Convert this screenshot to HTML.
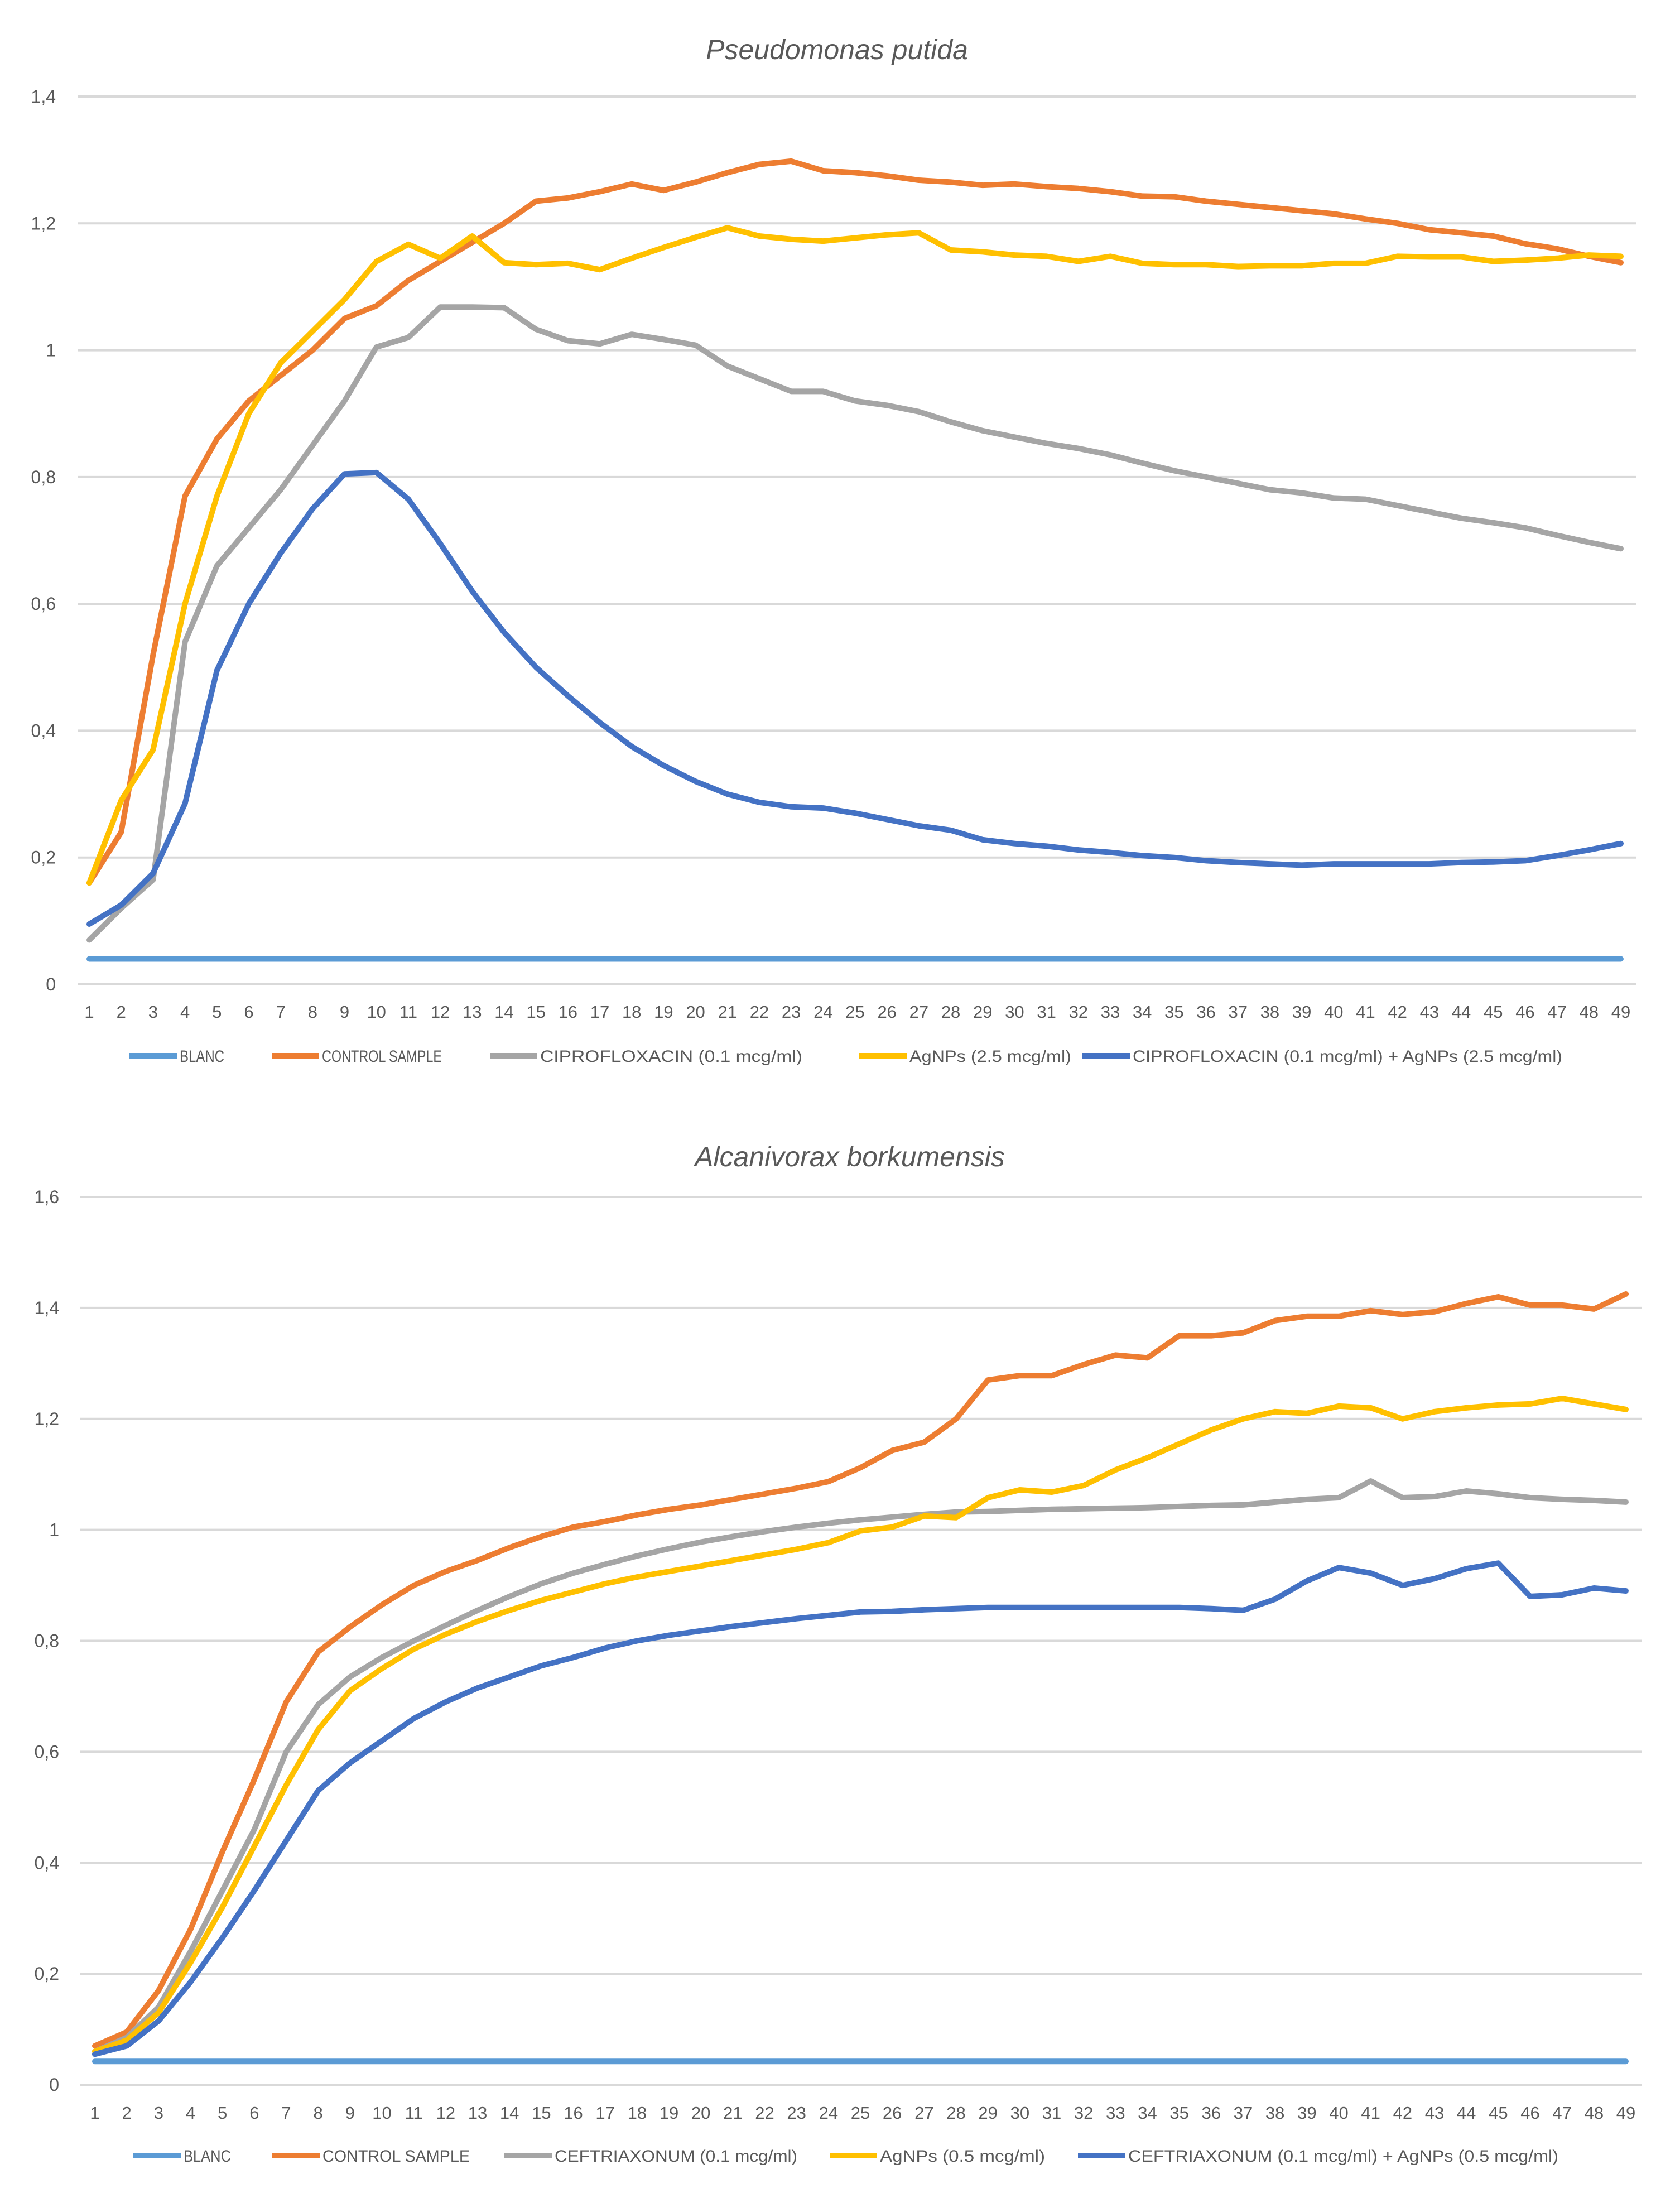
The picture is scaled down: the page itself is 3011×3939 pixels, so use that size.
<!DOCTYPE html>
<html><head><meta charset="utf-8"><style>
html,body{margin:0;padding:0;background:#fff}
svg{display:block}
text{font-family:"Liberation Sans",sans-serif;fill:#595959}
</style></head><body>
<svg id="svg" width="3011" height="3939" viewBox="0 0 3011 3939" xmlns="http://www.w3.org/2000/svg">
<rect width="3011" height="3939" fill="#fff"/>
<text x="1500" y="106" font-size="50" font-style="italic" text-anchor="middle">Pseudomonas putida</text>
<text x="1523" y="2090" font-size="50" font-style="italic" text-anchor="middle">Alcanivorax borkumensis</text>
</svg>
<script>
const categories = Array.from({length:49},(_,i)=>String(i+1));
const topTicks = ["0","0,2","0,4","0,6","0,8","1","1,2","1,4"];
const topTickValues = [0,0.2,0.4,0.6,0.8,1,1.2,1.4];
const botTicks = ["0","0,2","0,4","0,6","0,8","1","1,2","1,4","1,6"];
const botTickValues = [0,0.2,0.4,0.6,0.8,1,1.2,1.4,1.6];

const topBlanc = Array(49).fill(0.04);
const topControl = [0.16,0.24,0.52,0.77,0.86,0.92,0.96,1.0,1.05,1.07,1.11,1.14,1.17,1.2,1.235,1.24,1.25,1.262,1.252,1.265,1.28,1.293,1.298,1.283,1.28,1.275,1.268,1.265,1.26,1.262,1.258,1.255,1.25,1.243,1.242,1.235,1.23,1.225,1.22,1.215,1.207,1.2,1.19,1.185,1.18,1.168,1.16,1.148,1.138];
const topCipro = [0.07,0.12,0.165,0.54,0.66,0.72,0.78,0.85,0.92,1.005,1.02,1.068,1.068,1.067,1.033,1.015,1.01,1.025,1.017,1.008,0.975,0.955,0.935,0.935,0.92,0.913,0.903,0.887,0.873,0.863,0.853,0.845,0.835,0.822,0.81,0.8,0.79,0.78,0.775,0.767,0.765,0.755,0.745,0.735,0.728,0.72,0.708,0.697,0.687];
const topAgNPs = [0.16,0.29,0.37,0.6,0.77,0.9,0.98,1.03,1.08,1.14,1.167,1.145,1.18,1.138,1.135,1.137,1.127,1.145,1.162,1.178,1.193,1.18,1.175,1.172,1.177,1.182,1.185,1.158,1.155,1.15,1.148,1.14,1.148,1.137,1.135,1.135,1.132,1.133,1.133,1.137,1.137,1.148,1.147,1.147,1.14,1.142,1.145,1.15,1.148];
const topCombo = [0.095,0.125,0.175,0.285,0.495,0.6,0.68,0.75,0.805,0.807,0.765,0.695,0.62,0.555,0.5,0.455,0.413,0.375,0.345,0.32,0.3,0.287,0.28,0.278,0.27,0.26,0.25,0.243,0.228,0.222,0.218,0.212,0.208,0.203,0.2,0.195,0.192,0.19,0.188,0.19,0.19,0.19,0.19,0.192,0.193,0.195,0.203,0.212,0.222];

const botBlanc = Array(49).fill(0.042);
const botControl = [0.07,0.095,0.17,0.28,0.42,0.55,0.69,0.78,0.825,0.865,0.9,0.925,0.945,0.968,0.988,1.005,1.015,1.027,1.037,1.045,1.055,1.065,1.075,1.087,1.112,1.143,1.158,1.2,1.27,1.278,1.278,1.298,1.315,1.31,1.35,1.35,1.355,1.377,1.385,1.385,1.395,1.388,1.393,1.408,1.42,1.405,1.405,1.398,1.425];
const botCeftr = [0.06,0.085,0.14,0.24,0.35,0.46,0.6,0.685,0.735,0.77,0.8,0.828,0.855,0.88,0.903,0.922,0.938,0.953,0.966,0.978,0.988,0.997,1.005,1.012,1.018,1.023,1.028,1.032,1.033,1.035,1.037,1.038,1.039,1.04,1.042,1.044,1.045,1.05,1.055,1.058,1.088,1.058,1.06,1.07,1.065,1.058,1.055,1.053,1.05];
const botAgNPs = [0.06,0.08,0.13,0.22,0.32,0.43,0.54,0.64,0.71,0.75,0.785,0.812,0.835,0.855,0.873,0.888,0.903,0.915,0.925,0.935,0.945,0.955,0.965,0.977,0.998,1.005,1.025,1.022,1.058,1.072,1.068,1.08,1.108,1.13,1.155,1.18,1.2,1.213,1.21,1.223,1.22,1.2,1.213,1.22,1.225,1.227,1.237,1.227,1.217];
const botCombo = [0.055,0.07,0.115,0.185,0.265,0.35,0.44,0.53,0.58,0.62,0.66,0.69,0.715,0.735,0.755,0.77,0.787,0.8,0.81,0.818,0.826,0.833,0.84,0.846,0.852,0.853,0.856,0.858,0.86,0.86,0.86,0.86,0.86,0.86,0.86,0.858,0.855,0.875,0.908,0.932,0.922,0.9,0.912,0.93,0.94,0.88,0.883,0.895,0.89];

const topNames = ["BLANC","CONTROL SAMPLE","CIPROFLOXACIN (0.1 mcg/ml)","AgNPs (2.5 mcg/ml)","CIPROFLOXACIN (0.1 mcg/ml) + AgNPs (2.5 mcg/ml)"];
const botNames = ["BLANC","CONTROL SAMPLE","CEFTRIAXONUM (0.1 mcg/ml)","AgNPs  (0.5 mcg/ml)","CEFTRIAXONUM (0.1 mcg/ml) + AgNPs  (0.5 mcg/ml)"];
const colors = ["#5B9BD5","#ED7D31","#A5A5A5","#FFC000","#4472C4"];
const NS="http://www.w3.org/2000/svg";
const svg=document.getElementById('svg');
function mk(tag,attrs){const e=document.createElementNS(NS,tag);for(const k in attrs)e.setAttribute(k,attrs[k]);svg.appendChild(e);return e;}

function chart(cfg){
  const xs=i=>cfg.x1+(cfg.x49-cfg.x1)*i/48;
  const ys=v=>cfg.y0-(cfg.y0-cfg.yTop)*v/cfg.vMax;
  cfg.tickValues.forEach((v,i)=>{
    const g=mk('line',{x1:cfg.gl,x2:cfg.gr,y1:ys(v),y2:ys(v),stroke:'#d9d9d9','stroke-width':4});
    
    
    const t=mk('text',{x:cfg.ylx,y:ys(v)+11,'font-size':32,'text-anchor':'end'});
    t.textContent=cfg.ticks[i];
    
    
  });
  categories.forEach((c,i)=>{
    const t=mk('text',{x:xs(i),y:cfg.xly,'font-size':31,'text-anchor':'middle'});
    t.textContent=c;
    
    
  });
  cfg.series.forEach((s,k)=>{
    const d=s.map((v,i)=>(i?'L':'M')+xs(i).toFixed(1)+' '+ys(v).toFixed(1)).join(' ');
    const p=mk('path',{d:d,fill:'none',stroke:colors[k],'stroke-width':10,'stroke-linejoin':'round','stroke-linecap':'round'});
    
    
  });
  cfg.names.forEach((n,k)=>{
    const lx=cfg.legX[k];
    const l=mk('line',{x1:lx,x2:lx+85,y1:cfg.legY,y2:cfg.legY,stroke:colors[k],'stroke-width':10});
    
    
    const t=mk('text',{x:lx+90,y:cfg.legY+11,'font-size':30,textLength:cfg.legW[k],lengthAdjust:'spacingAndGlyphs'});
    t.textContent=n;
    
    
  });
}
chart({p:'top',x1:160,x49:2905,y0:1764,yTop:173,vMax:1.4,gl:140,gr:2932,ylx:100,xly:1824,
  ticks:topTicks,tickValues:topTickValues,series:[topBlanc,topControl,topCipro,topAgNPs,topCombo],names:topNames,
  legY:1892,legX:[232,487,878,1540,1940],legW:[80,215,470,290,770]});
chart({p:'bottom',x1:170,x49:2914,y0:3736,yTop:2145,vMax:1.6,gl:143,gr:2943,ylx:106,xly:3797,
  ticks:botTicks,tickValues:botTickValues,series:[botBlanc,botControl,botCeftr,botAgNPs,botCombo],names:botNames,
  legY:3863,legX:[239,488,904,1487,1932],legW:[85,264,435,296,771]});
</script>
</body></html>
